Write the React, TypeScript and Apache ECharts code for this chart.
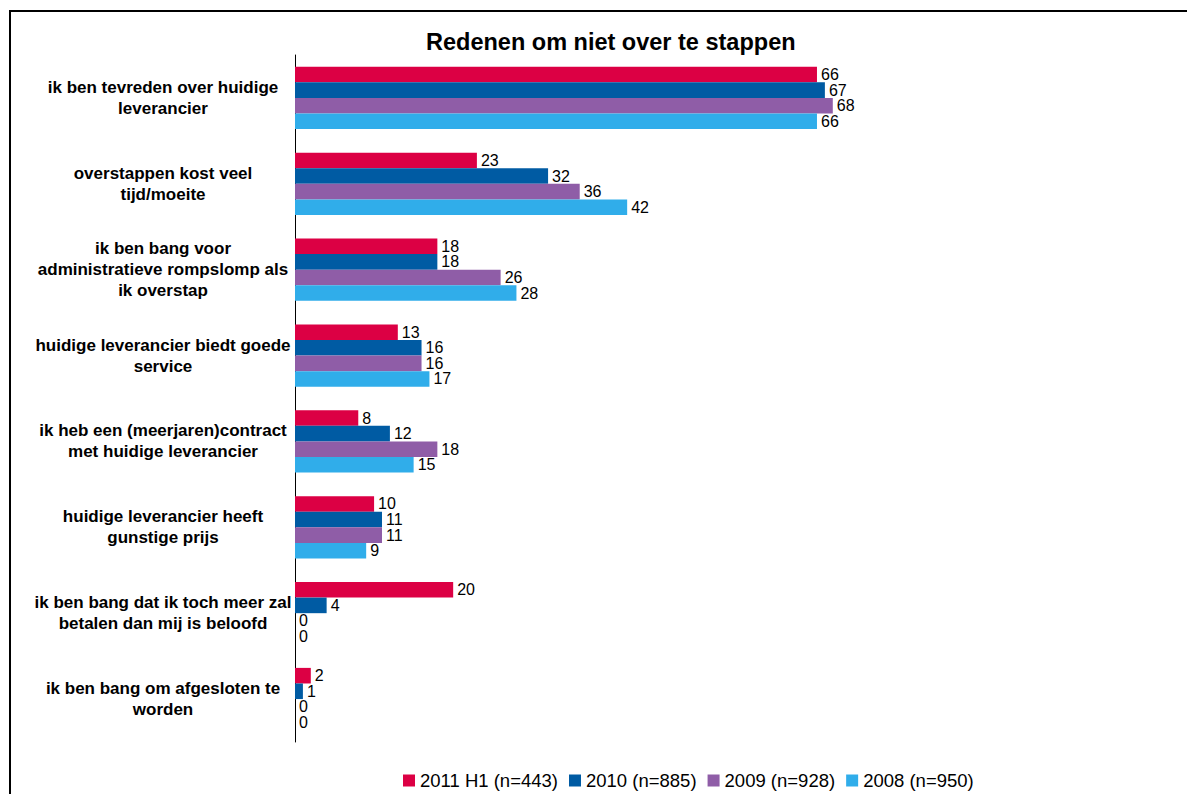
import React, { useEffect, useRef } from "react";
import * as echarts from "echarts";

const categories = [
  "ik ben tevreden over huidige\nleverancier",
  "overstappen kost veel\ntijd/moeite",
  "ik ben bang voor\nadministratieve rompslomp als\nik overstap",
  "huidige leverancier biedt goede\nservice",
  "ik heb een (meerjaren)contract\nmet huidige leverancier",
  "huidige leverancier heeft\ngunstige prijs",
  "ik ben bang dat ik toch meer zal\nbetalen dan mij is beloofd",
  "ik ben bang om afgesloten te\nworden",
];

const seriesNames = ["2011 H1 (n=443)", "2010 (n=885)", "2009 (n=928)", "2008 (n=950)"];
const values2011 = [66, 23, 18, 13, 8, 10, 20, 2];
const values2010 = [67, 32, 18, 16, 12, 11, 4, 1];
const values2009 = [68, 36, 26, 16, 18, 11, 0, 0];
const values2008 = [66, 42, 28, 17, 15, 9, 0, 0];
const seriesColors = ["#DC0044", "#005BA3", "#8F5DA7", "#30ADEA"];

const titleText = "Redenen om niet over te stappen";
const FONT = "'Liberation Sans', Arial, Helvetica, sans-serif";

export default function App() {
  const ref = useRef<HTMLDivElement>(null);
  useEffect(() => {
    document.body.style.margin = "0";
    const chart = echarts.init(ref.current!, undefined, { renderer: "svg" });
    const allValues = [values2011, values2010, values2009, values2008];
    chart.setOption({
      animation: false,
      backgroundColor: "#ffffff",
      textStyle: { fontFamily: FONT },
      title: {
        text: titleText,
        left: 421,
        top: 25,
        textStyle: { fontSize: 23.5, fontWeight: "bold", color: "#000", fontFamily: FONT },
      },
      legend: {
        data: seriesNames,
        left: 398,
        top: 766,
        icon: "rect",
        itemWidth: 12,
        itemHeight: 12,
        itemGap: 11,
        textStyle: { fontSize: 18.5, color: "#000", fontFamily: FONT },
      },
      grid: { left: 295, top: 55, width: 632.7, height: 687, containLabel: false },
      xAxis: { type: "value", min: 0, max: 80, show: false },
      yAxis: {
        type: "category",
        data: categories,
        inverse: true,
        axisLine: { show: true, lineStyle: { color: "#000", width: 1 } },
        axisTick: { show: false },
        axisLabel: {
          align: "center",
          margin: 132,
          fontSize: 17,
          fontWeight: "bold",
          lineHeight: 21,
          color: "#000",
          fontFamily: FONT,
        },
        splitLine: { show: false },
      },
      graphic: [
        {
          type: "rect",
          shape: { x: 10, y: 11, width: 1400, height: 1000 },
          style: { fill: "none", stroke: "#000", lineWidth: 2 },
          silent: true,
        },
      ],
      series: seriesNames.map((name, i) => ({
        name,
        type: "bar",
        data: allValues[i],
        barGap: "0%",
        barCategoryGap: "27.4%",
        itemStyle: { color: seriesColors[i] },
        label: {
          show: true,
          position: "right",
          distance: 4,
          fontSize: 16,
          color: "#000",
          fontFamily: FONT,
        },
      })),
    });
    return () => chart.dispose();
  }, []);
  return <div ref={ref} style={{ width: 1187, height: 794 }} />;
}
